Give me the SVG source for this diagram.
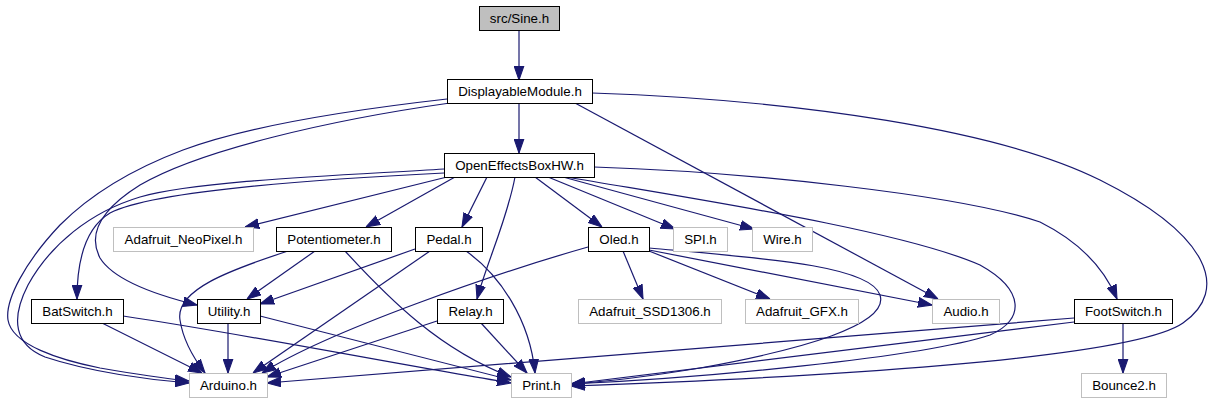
<svg xmlns="http://www.w3.org/2000/svg" width="1223" height="403" viewBox="0 0 1223 403">
<style>
.n rect{fill:#ffffff;stroke:#000000;stroke-width:1}
.x rect{fill:#ffffff;stroke:#bfbfbf;stroke-width:1}
.root rect{fill:#bfbfbf;stroke:#000000;stroke-width:1}
text{font-family:"Liberation Sans",Arial,Helvetica,sans-serif;font-size:13.33px;text-anchor:middle;fill:#000000}
#edges path{fill:none;stroke:#191970;stroke-width:1.2;marker-end:url(#ah)}
</style>
<defs>
<marker id="ah" markerUnits="userSpaceOnUse" markerWidth="14" markerHeight="11" viewBox="0 0 13 10" refX="13" refY="5" orient="auto">
<path d="M0,0.5L13,5L0,9.5z" fill="#191970" stroke="#191970" stroke-width="1"/>
</marker>
</defs>
<rect width="1223" height="403" fill="#ffffff"/>
<g id="edges">
<path d="M519,30L519,80"/>
<path d="M519,103L519,153"/>
<path d="M447,99C350,110 250,125 183,150C130,170 90,195 60,225C25,262 5,300 8,320C12,345 60,360 100,368C140,375 170,379 189,381"/>
<path d="M450,103C330,120 200,150 140,185C100,210 88,235 100,258C115,282 160,296 197,305"/>
<path d="M575,103L938,299"/>
<path d="M592,93C800,100 1000,130 1100,180C1210,235 1230,290 1183,323C1130,360 800,378 571,386"/>
<path d="M444,169C350,175 200,180 140,197C90,212 50,245 28,285C10,320 15,345 45,357C90,372 150,380 189,383"/>
<path d="M444,173C300,180 150,192 110,213C85,228 77,260 77,299"/>
<path d="M447,177L245,227"/>
<path d="M455,177L366,227"/>
<path d="M487,177L462,227"/>
<path d="M515,177C507,220 487,262 477,299"/>
<path d="M535,177L602,227"/>
<path d="M548,177L675,229"/>
<path d="M563,177L754,229"/>
<path d="M594,167C750,172 960,195 1040,222C1080,242 1105,270 1117,299"/>
<path d="M567,177C700,200 900,230 980,265C1025,290 1025,320 990,335C920,358 700,378 571,384"/>
<path d="M588,247C500,272 330,330 262,373"/>
<path d="M623,251L643,299"/>
<path d="M649,251L770,299"/>
<path d="M649,250L932,305"/>
<path d="M649,248C760,258 870,265 880,295C890,325 800,350 700,368C640,378 600,382 571,384"/>
<path d="M415,249L260,304"/>
<path d="M430,251L253,373"/>
<path d="M466,251C500,275 530,320 535,373"/>
<path d="M315,251L247,299"/>
<path d="M288,251C230,270 175,290 180,320C183,340 195,360 205,373"/>
<path d="M345,251C390,300 440,350 511,377"/>
<path d="M102,323L202,373"/>
<path d="M123,316C250,335 400,365 511,383"/>
<path d="M228,323L228,373"/>
<path d="M260,316L511,380"/>
<path d="M437,321L267,377"/>
<path d="M481,323L527,373"/>
<path d="M1074,318C800,340 500,365 267,383"/>
<path d="M1074,322L571,384"/>
<path d="M1123,323L1123,373"/>
</g>
<g id="sine" class="root"><rect x="479.5" y="6.5" width="80" height="24"/><text x="519.5" y="23">src/Sine.h</text></g>
<g id="displayablemodule" class="n"><rect x="447.5" y="79.5" width="145" height="24"/><text x="520" y="96">DisplayableModule.h</text></g>
<g id="openeffectsboxhw" class="n"><rect x="444.5" y="153.5" width="150" height="24"/><text x="519.5" y="170">OpenEffectsBoxHW.h</text></g>
<g id="neopixel" class="x"><rect x="113.5" y="227.5" width="140" height="24"/><text x="183.5" y="244">Adafruit_NeoPixel.h</text></g>
<g id="potentiometer" class="n"><rect x="276.5" y="227.5" width="115" height="24"/><text x="334" y="244">Potentiometer.h</text></g>
<g id="pedal" class="n"><rect x="415.5" y="227.5" width="67" height="24"/><text x="449" y="244">Pedal.h</text></g>
<g id="oled" class="n"><rect x="588.5" y="227.5" width="61" height="24"/><text x="619" y="244">Oled.h</text></g>
<g id="spi" class="x"><rect x="673.5" y="227.5" width="54" height="24"/><text x="700.5" y="244">SPI.h</text></g>
<g id="wire" class="x"><rect x="752.5" y="227.5" width="60" height="24"/><text x="782.5" y="244">Wire.h</text></g>
<g id="batswitch" class="n"><rect x="31.5" y="299.5" width="92" height="24"/><text x="77.5" y="316">BatSwitch.h</text></g>
<g id="utility" class="n"><rect x="197.5" y="299.5" width="63" height="24"/><text x="229" y="316">Utility.h</text></g>
<g id="relay" class="n"><rect x="437.5" y="299.5" width="66" height="24"/><text x="470.5" y="316">Relay.h</text></g>
<g id="ssd1306" class="x"><rect x="578.5" y="299.5" width="143" height="24"/><text x="650" y="316">Adafruit_SSD1306.h</text></g>
<g id="gfx" class="x"><rect x="745.5" y="299.5" width="113" height="24"/><text x="802" y="316">Adafruit_GFX.h</text></g>
<g id="audio" class="x"><rect x="932.5" y="299.5" width="67" height="24"/><text x="966" y="316">Audio.h</text></g>
<g id="footswitch" class="n"><rect x="1074.5" y="299.5" width="98" height="24"/><text x="1123.5" y="316">FootSwitch.h</text></g>
<g id="arduino" class="x"><rect x="189.5" y="373.5" width="78" height="24"/><text x="228.5" y="390">Arduino.h</text></g>
<g id="print" class="x"><rect x="511.5" y="373.5" width="60" height="24"/><text x="541.5" y="390">Print.h</text></g>
<g id="bounce2" class="x"><rect x="1081.5" y="373.5" width="85" height="24"/><text x="1124" y="390">Bounce2.h</text></g>
</svg>
